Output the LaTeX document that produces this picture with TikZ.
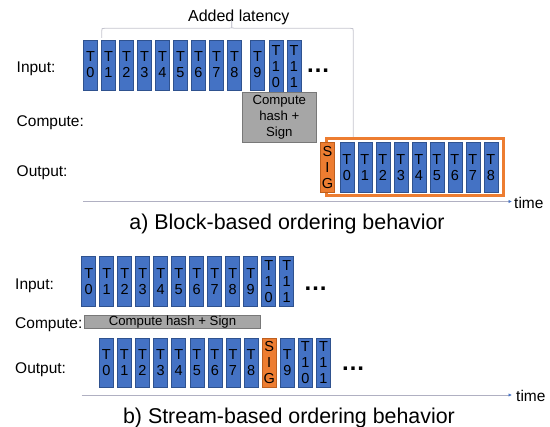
\documentclass[tikz,border=0pt]{standalone}
\usepackage{fontspec}
\setmainfont{Liberation Sans}
\usepackage{tikz}
\usetikzlibrary{arrows.meta}

\definecolor{tokblue}{RGB}{68,114,196}
\definecolor{tokedge}{RGB}{47,82,143}
\definecolor{sigorange}{RGB}{237,125,49}
\definecolor{sigedge}{RGB}{190,95,30}
\definecolor{hashgray}{RGB}{166,166,166}
\definecolor{hashedge}{RGB}{120,120,120}
\definecolor{axisgray}{RGB}{176,176,194}
\definecolor{bracegray}{RGB}{196,196,206}

\begin{document}
\begin{tikzpicture}[x=1pt,y=-1pt,
  tok/.style={draw=tokedge,fill=tokblue,line width=0.6pt,minimum width=14pt,minimum height=50pt,inner sep=0pt,align=center,font=\fontsize{14.5}{16}\selectfont},
  sig/.style={tok,draw=sigedge,fill=sigorange},
  hash/.style={draw=hashedge,fill=hashgray,line width=0.6pt,inner sep=0pt,align=center,font=\fontsize{13.2}{16}\selectfont},
  rowlabel/.style={anchor=base west,inner sep=0pt,font=\fontsize{15.5}{18}\selectfont},
  more/.style={inner sep=0pt,font=\fontsize{24}{24}\selectfont\bfseries},
  title/.style={anchor=base,inner sep=0pt,font=\fontsize{21.4}{24}\selectfont},
  timeaxis/.style={draw=axisgray,line width=0.8pt,-{Latex[length=3.5pt,width=3.5pt,color=tokblue]}},
  timelabel/.style={anchor=base west,inner sep=0pt,font=\fontsize{15.5}{18}\selectfont}]
\useasboundingbox (0,0) rectangle (550,427);

% a) Block-based
% Added latency brace
\coordinate (latL) at (101.7,38);
\coordinate (latR) at (353.3,137);
\draw[bracegray,line width=0.8pt] (latL) -- (101.7,31.3) .. controls (101.7,28.3) .. (104.7,28.3) -- (228.7,28.3) .. controls (231.7,28.3) .. (231.7,25) -- (231.7,20);
\draw[bracegray,line width=0.8pt] (231.7,20) -- (231.7,25) .. controls (231.7,28.3) .. (234.7,28.3) -- (350.3,28.3) .. controls (353.3,28.3) .. (353.3,31.3) -- (latR);
\node[anchor=base,inner sep=0pt,font=\fontsize{16}{18}\selectfont] (lat) at (238.8,21.5) {Added latency};

% Row labels
\node[rowlabel] (ain) at (16.5,72.7) {Input:};
\node[rowlabel] (acomp) at (16.5,127) {Compute:};
\node[rowlabel] (aout) at (16.5,177) {Output:};

% Input tokens
\foreach \i in {0,...,8}
  \node[tok] (ai\i) at (90.5+18*\i,65) {T\\\i};
\node[tok] (ai9) at (257.5,65) {T\\9};
\node[tok,minimum height=54pt] (ai10) at (276,67) {T\\1\\0};
\node[tok,minimum height=54pt] (ai11) at (294,67) {T\\1\\1};
\node[more] (amore) at (318,71) {…};

% Compute
\node[hash,minimum width=73.3pt,minimum height=49.7pt] (ahash) at (279.3,117.2) {Compute\\hash +\\Sign};

% Output block
\node[draw=sigorange,line width=3pt,minimum width=176.5pt,minimum height=57pt,inner sep=0pt] (aframe) at (414.75,167.5) {};
\node[sig] (asig) at (327.5,167.3) {S\\I\\G};
\foreach \i in {0,...,8}
  \node[tok] (ao\i) at (346.8+18*\i,167.3) {T\\\i};

% Time axis
\coordinate (ta0) at (83,201.5);
\coordinate (ta1) at (512,201.5);
\draw[timeaxis] (ta0) -- (ta1);
\node[timelabel] (timea) at (514,209) {time};
\node[title] (titlea) at (287,230) {a) Block-based ordering behavior};

% b) Stream-based
% Row labels
\node[rowlabel] (bin) at (15,289.3) {Input:};
\node[rowlabel] (bcomp) at (15,328.3) {Compute:};
\node[rowlabel] (bout) at (15,374) {Output:};

% Input tokens
\foreach \i in {0,...,9}
  \node[tok,minimum height=49.3pt] (bi\i) at (88.7+18*\i,281.3) {T\\\i};
\node[tok,minimum height=49.3pt] (bi10) at (268.7,281.3) {T\\1\\0};
\node[tok,minimum height=49.3pt] (bi11) at (286.7,281.3) {T\\1\\1};
\node[more] (bmore) at (315.5,289) {…};

% Compute
\node[hash,minimum width=176.4pt,minimum height=12.6pt] (bhash) at (172.5,322) {Compute hash + Sign};

% Output stream
\foreach \i in {0,...,8}
  \node[tok,minimum height=49.4pt] (bo\i) at (106.3+18.1*\i,363) {T\\\i};
\node[sig,minimum height=49.4pt] (bsig) at (269.2,363) {S\\I\\G};
\node[tok,minimum height=49.4pt] (bo9) at (287.3,363) {T\\9};
\node[tok,minimum height=49.4pt] (bo10) at (305.4,363) {T\\1\\0};
\node[tok,minimum height=49.4pt] (bo11) at (323.5,363) {T\\1\\1};
\node[more] (bomore) at (353,369) {…};

% Time axis
\coordinate (tb0) at (81.7,395);
\coordinate (tb1) at (512,395);
\draw[timeaxis] (tb0) -- (tb1);
\node[timelabel] (timeb) at (516,402) {time};
\node[title] (titleb) at (289,423.6) {b) Stream-based ordering behavior};

\end{tikzpicture}
\end{document}
